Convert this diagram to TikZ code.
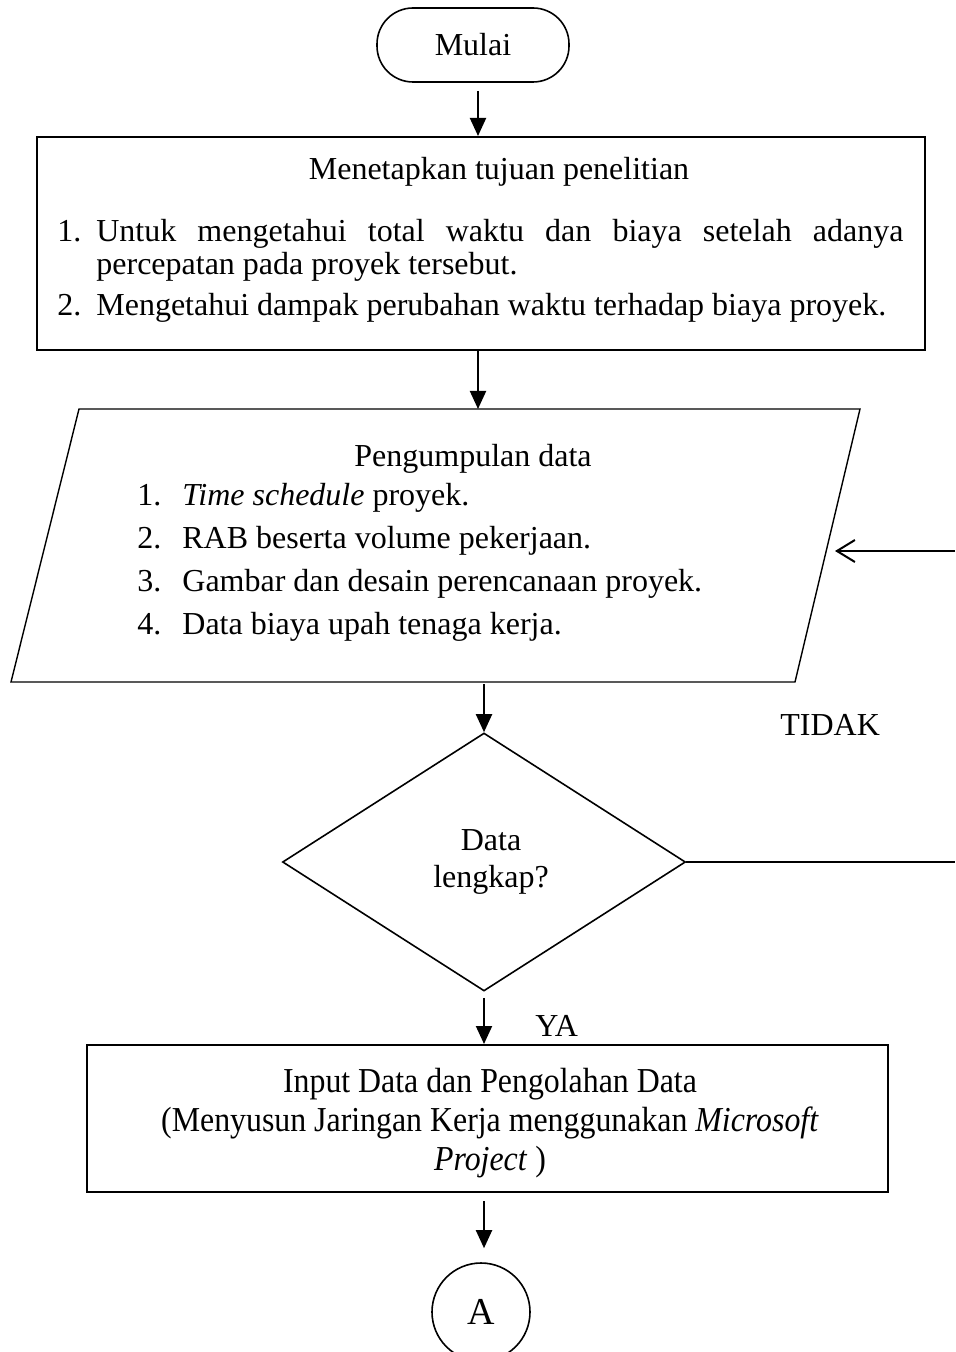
\documentclass[tikz,border=0pt]{standalone}
\usepackage{fontspec}
\setmainfont{Liberation Serif}
\newfontfamily\condensedserif[FakeStretch=0.91]{Liberation Serif}
\usetikzlibrary{arrows.meta,shapes.geometric,calc}

\begin{document}
\begin{tikzpicture}[x=0.5pt,y=-0.5pt,
    font=\fontsize{16}{17}\selectfont,
    terminal/.style={draw,line width=0.8pt,rounded corners=18pt,minimum width=96pt,minimum height=37pt},
    process/.style={draw,line width=1pt,inner sep=0pt},
    dataio/.style={draw,line width=0.7pt},
    decision/.style={draw,line width=0.8pt,diamond,inner sep=0pt},
    flow/.style={-{Triangle[length=9pt,width=8pt]},line width=1pt},
    back/.style={-{Straight Barb[length=9pt,width=11pt]},line width=1pt}]
          \useasboundingbox (0,0) rectangle (955,1352);

          % start
          \node[terminal] (mulai) at (473,45) {Mulai};

          % research goals
          \node[process,minimum width=444pt,minimum height=106.5pt] (tujuan) at (481,243.5) {};
          \node[anchor=base,inner sep=0pt] (tujuanjudul) at (499,180) {Menetapkan tujuan penelitian};
          \node[anchor=base west,inner sep=0pt] (tujuanisi) at (57,242) {\parbox[t]{423pt}{%
              \fontsize{16}{16.5}\selectfont
              \hangindent=19.5pt\hangafter=1\noindent\makebox[19.5pt][l]{1.}Untuk mengetahui total waktu dan biaya setelah adanya\linebreak percepatan pada proyek tersebut.\par
              \vspace{4pt}
              \hangindent=19.5pt\hangafter=1\noindent\makebox[19.5pt][l]{2.}Mengetahui dampak perubahan waktu terhadap biaya proyek.}};

          % data collection (parallelogram)
          \draw[dataio] (79,409) coordinate (dataatas) -- (860,409) -- (795,682) -- (11,682) coordinate (databawah) -- cycle;
          \coordinate (datakanan) at (835,551);
          \node[anchor=base,inner sep=0pt] (datajudul) at (473,466) {Pengumpulan data};
          \foreach \n/\isi in {
              1/{\textit{Time schedule} proyek.},
              2/{RAB beserta volume pekerjaan.},
              3/{Gambar dan desain perencanaan proyek.},
              4/{Data biaya upah tenaga kerja.}
          } {
              \node[anchor=base west,inner sep=0pt] (nomor\n) at (137,{462+43*\n}) {\n.};
              \node[anchor=base west,inner sep=0pt] (item\n) at (182,{462+43*\n}) {\isi};
          }

          % check
          \node[decision,minimum width=201.5pt,minimum height=129pt] (cek) at (484,862) {};
          \node[anchor=base,inner sep=0pt] (cekisi) at (491,850) {\parbox[t]{100pt}{\centering
              \fontsize{16}{18.5}\selectfont Data\\lengkap?}};
          \node[anchor=base west,inner sep=0pt] (tidak) at (780,735) {TIDAK};
          \node[anchor=base west,inner sep=0pt] (ya) at (535,1036) {YA};

          % processing
          \node[process,minimum width=400.5pt,minimum height=73.5pt] (olah) at (487.5,1118.5) {};
          \node[anchor=base,inner sep=0pt] (olahisi) at (490,1092) {\parbox[t]{400pt}{\centering
              \condensedserif\fontsize{17.5}{19.5}\selectfont
              Input Data dan Pengolahan Data\\
              (Menyusun Jaringan Kerja menggunakan \textit{Microsoft}\\
              \textit{Project} )}};

          % connector
          \node[draw,circle,line width=0.8pt,minimum size=49pt,inner sep=0pt] (sambung) at (481,1312) {\fontsize{19}{19}\selectfont A};

          % arrows
          \draw[flow] (mulai.south) ++(5,8) coordinate (a1) -- (a1 |- tujuan.north);
          \draw[flow] ([xshift=-1.5pt]tujuan.south) coordinate (a2) -- (a2 |- dataatas);
          \draw[flow] (cek.north |- databawah) ++(0,2) coordinate (a3) -- (cek.north);
          \draw[flow] (cek.south) ++(0,6) coordinate (a4) -- (a4 |- olah.north);
          \draw[flow] (cek.south |- olah.south) ++(0,8) coordinate (a5) -- ([yshift=7pt]a5 |- sambung.north);

          % loop back when data is incomplete
          \coordinate (tidakujung) at (955,862);
          \coordinate (balik) at (955,551);
          \draw[line width=1pt] (cek.east) -- (tidakujung);
          \draw[back] (balik) -- (datakanan);
      \end{tikzpicture}
\end{document}
